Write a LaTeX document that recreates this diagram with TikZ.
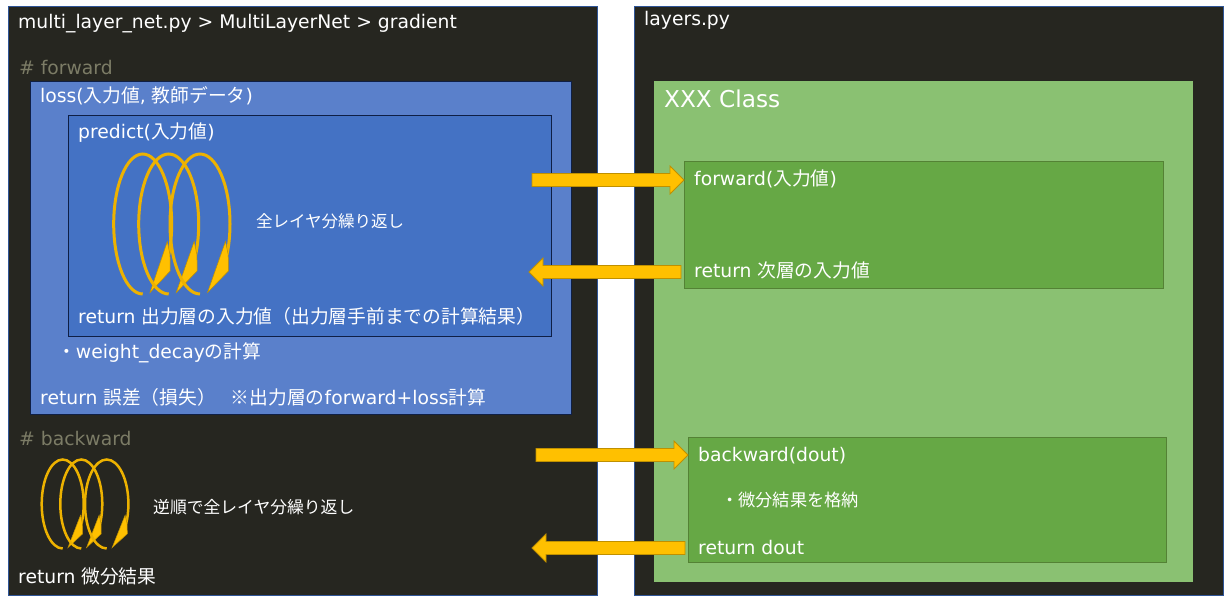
\documentclass[tikz,border=0pt]{standalone}
\usepackage{fontspec}
\setmainfont{DejaVu Sans}
\newfontfamily\jpf{Noto Sans CJK JP}
\usetikzlibrary{calc}
\definecolor{panelbg}{HTML}{262620}
\definecolor{panelline}{HTML}{2F5597}
\definecolor{lossbg}{HTML}{5A80CB}
\definecolor{predictbg}{HTML}{4472C4}
\definecolor{predictline}{HTML}{0F1F45}
\definecolor{classbg}{HTML}{8AC172}
\definecolor{methodbg}{HTML}{66A845}
\definecolor{methodline}{HTML}{548235}
\definecolor{commentc}{HTML}{7C7C66}
\definecolor{arrowbg}{HTML}{FFC000}
\definecolor{arrowline}{HTML}{BF9000}
\def\ja#1{{\jpf #1}}
\def\coil#1#2#3#4#5{
    \draw[arrowbg!93!black,line width=#5pt] (#1,#2-#4) arc[start angle=270,end angle=-26,x radius=#3,y radius=#4];
    \begin{scope}[shift={(#1,#2)},x=#3pt,y=#4pt]
        \fill[arrowbg,draw=arrowline,line width=.5pt] (.25,-.98) -- (.95,-.67) -- (.94,-.44) -- (.85,-.25) -- cycle;
    \end{scope}
}
\tikzstyle{panel}=[fill=panelbg,draw=panelline,line width=.8pt]
\tikzstyle{txt}=[anchor=base west,inner sep=0pt,text=white,font=\fontsize{18.75}{22}\selectfont]
\tikzstyle{note}=[txt,text=commentc]
\tikzstyle{blockarrow}=[fill=arrowbg,draw=arrowline,line width=.8pt,to path={
    let \p1=($(\tikztotarget)!14pt!(\tikztostart)$) in
    ($(\tikztostart)!6.5pt!90:(\tikztotarget)$) -- ($(\p1)!6.5pt!90:(\tikztotarget)$) -- ($(\p1)!14pt!90:(\tikztotarget)$)
    -- (\tikztotarget) -- ($(\p1)!14pt!-90:(\tikztotarget)$) -- ($(\p1)!6.5pt!-90:(\tikztotarget)$)
    -- ($(\tikztostart)!6.5pt!-90:(\tikztotarget)$) -- cycle}]
\begin{document}
\begin{tikzpicture}[x=1pt,y=1pt]
    \useasboundingbox[fill=white] (0,0) rectangle (1231,-599);
    \draw[panel] (8,-6) rectangle (597,-595);
    \draw[panel] (634,-6) rectangle (1223,-595);
    \draw[fill=lossbg,draw=predictline,line width=.8pt] (30,-81) rectangle (571,-414);
    \draw[fill=predictbg,draw=predictline,line width=.8pt] (68,-115) rectangle (551,-336);
    \fill[classbg] (654,-81) rectangle (1193,-582);
    \draw[fill=methodbg,draw=methodline,line width=.8pt] (684,-161) rectangle (1163,-288);
    \draw[fill=methodbg,draw=methodline,line width=.8pt] (688,-437) rectangle (1166,-562);
    \coordinate (fwdbox) at (684,-224);
    \coordinate (bwdbox) at (688,-500);
    \node[txt] (title) at (18,-29) {multi\_layer\_net.py > MultiLayerNet > gradient};
    \node[note] (fwdnote) at (19,-75) {\# forward};
    \node[txt] (loss) at (40,-103) {loss(\ja{入力値}, \ja{教師データ})};
    \node[txt] (predict) at (78,-139) {predict(\ja{入力値})};
    \node[txt,font=\fontsize{16.5}{20}\selectfont] (repeat) at (256,-227) {\ja{全レイヤ分繰り返し}};
    \node[txt] (predictret) at (78,-323) {return \ja{出力層の入力値（出力層手前までの計算結果）}};
    \node[txt] (decay) at (57,-358) {\ja{・}weight\_decay\ja{の計算}};
    \node[txt] (lossret) at (40,-404) {return \ja{誤差（損失）\hspace{15pt}※出力層の}forward+loss\ja{計算}};
    \node[note] (bwdnote) at (19,-445) {\# backward};
    \node[txt,font=\fontsize{16.8}{20}\selectfont] (revrepeat) at (153,-513) {\ja{逆順で全レイヤ分繰り返し}};
    \node[txt] (gradret) at (18,-583) {return \ja{微分結果}};
    \node[txt] (layers) at (644,-26) {layers.py};
    \node[txt,font=\fontsize{23.2}{28}\selectfont] (xxx) at (664,-108) {XXX Class};
    \node[txt] (forward) at (694,-185) {forward(\ja{入力値})};
    \node[txt] (forwardret) at (694,-277) {return \ja{次層の入力値}};
    \node[txt] (backward) at (698,-461) {backward(dout)};
    \node[txt,font=\fontsize{17.2}{20}\selectfont] (store) at (721,-506) {\ja{・微分結果を格納}};
    \node[txt] (backwardret) at (698,-554) {return dout};
    \coil{142.7}{-224}{29}{70}{3}
    \coil{168.7}{-224}{30}{70}{3}
    \coil{200}{-224}{30}{70}{3}
    \coil{62.7}{-504}{21}{44.5}{2.5}
    \coil{81.3}{-504}{21}{44.5}{2.5}
    \coil{106.7}{-504}{21.7}{44.5}{2.5}
    \coordinate (fwdfrom) at (532,-180);
    \coordinate (fwdto) at (529,-272);
    \coordinate (bwdfrom) at (536,-455);
    \coordinate (bwdto) at (532,-548);
    \draw[blockarrow] (fwdfrom) to (fwdfrom -| fwdbox);
    \draw[blockarrow] (fwdto -| forwardret.west) ++(-13,0) coordinate (fwdback) (fwdback) to (fwdto);
    \draw[blockarrow] (bwdfrom) to (bwdfrom -| bwdbox);
    \draw[blockarrow] (bwdto -| backwardret.west) ++(-13,0) coordinate (bwdback) (bwdback) to (bwdto);
\end{tikzpicture}
\end{document}
